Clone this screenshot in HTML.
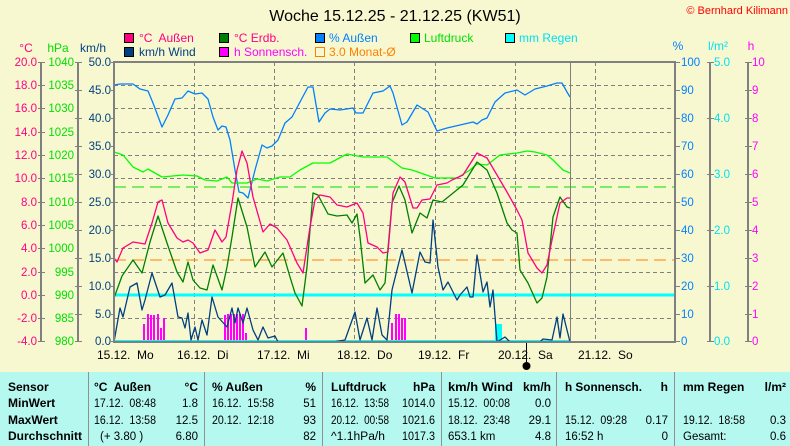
<!DOCTYPE html>
<html><head><meta charset="utf-8"><style>
html,body{margin:0;padding:0;background:#f8f8d0;}
svg{display:block;font-family:"Liberation Sans",sans-serif;}
</style></head><body>
<svg width="790" height="446" viewBox="0 0 790 446" xmlns="http://www.w3.org/2000/svg">
<rect width="790" height="446" fill="#f8f8d0"/>
<text x="395" y="21" font-size="16" text-anchor="middle" fill="#000">Woche 15.12.25 - 21.12.25 (KW51)</text>
<text x="788" y="14" font-size="11" text-anchor="end" fill="#ff0000">© Bernhard Kilimann</text>
<g font-size="12">
<rect x="124.5" y="33.5" width="9" height="9" fill="#ff0080" stroke="#000"/><text x="139" y="42" fill="#ff0080">°C&#160; Außen</text>
<rect x="124.5" y="47.5" width="9" height="9" fill="#004080" stroke="#000"/><text x="139" y="56" fill="#004080">km/h Wind</text>
<rect x="219.5" y="33.5" width="9" height="9" fill="#008000" stroke="#000"/><text x="234" y="42" fill="#ff0080">°C Erdb.</text>
<rect x="219.5" y="47.5" width="9" height="9" fill="#ff00ff" stroke="#000"/><text x="234" y="56" fill="#ff00ff">h Sonnensch.</text>
<rect x="315.5" y="33.5" width="9" height="9" fill="#0080ff" stroke="#000"/><text x="329" y="42" fill="#0080ff">% Außen</text>
<rect x="315.5" y="47.5" width="9" height="9" fill="none" stroke="#ff8000"/><text x="329" y="56" fill="#ff8000">3.0 Monat-Ø</text>
<rect x="410.5" y="33.5" width="9" height="9" fill="#00ff00" stroke="#000"/><text x="424" y="42" fill="#00e000">Luftdruck</text>
<rect x="505.5" y="33.5" width="9" height="9" fill="#00ffff" stroke="#000"/><text x="519" y="42" fill="#00e0f0">mm Regen</text>
</g>
<g font-size="12">
<text x="26" y="52" text-anchor="middle" fill="#ff0080">°C</text>
<text x="58" y="52" text-anchor="middle" fill="#00e000">hPa</text>
<text x="93" y="52" text-anchor="middle" fill="#004080">km/h</text>
<text x="678" y="50" text-anchor="middle" fill="#0080ff">%</text>
<text x="718" y="50" text-anchor="middle" fill="#00e0f0">l/m²</text>
<text x="751" y="50" text-anchor="middle" fill="#ff00ff">h</text>
</g>
<g stroke="#808080" stroke-dasharray="4,3" stroke-width="1">
<line x1="114" y1="85.5" x2="675" y2="85.5"/><line x1="114" y1="108.5" x2="675" y2="108.5"/>
<line x1="114" y1="132.5" x2="675" y2="132.5"/><line x1="114" y1="155.5" x2="675" y2="155.5"/>
<line x1="114" y1="178.5" x2="675" y2="178.5"/><line x1="114" y1="202.5" x2="675" y2="202.5"/>
<line x1="114" y1="225.5" x2="675" y2="225.5"/><line x1="114" y1="248.5" x2="675" y2="248.5"/>
<line x1="114" y1="272.5" x2="675" y2="272.5"/><line x1="114" y1="295.5" x2="675" y2="295.5"/>
<line x1="114" y1="318.5" x2="675" y2="318.5"/>
<line x1="194.5" y1="62" x2="194.5" y2="342"/><line x1="274.5" y1="62" x2="274.5" y2="342"/>
<line x1="354.5" y1="62" x2="354.5" y2="342"/><line x1="435.5" y1="62" x2="435.5" y2="342"/>
<line x1="515.5" y1="62" x2="515.5" y2="342"/><line x1="595.5" y1="62" x2="595.5" y2="342"/>
</g>
<g stroke="#808080" stroke-width="2" fill="none">
<line x1="41" y1="62" x2="41" y2="342"/><line x1="78" y1="62" x2="78" y2="342"/>
<line x1="710" y1="62" x2="710" y2="342"/><line x1="748" y1="62" x2="748" y2="342"/>
</g>
<g stroke="#808080" stroke-width="1">
<path d="M38 62.5h7M38 85.5h7M38 108.5h7M38 132.5h7M38 155.5h7M38 178.5h7M38 202.5h7M38 225.5h7M38 248.5h7M38 272.5h7M38 295.5h7M38 318.5h7M38 341.5h7"/>
<path d="M75 62.5h7M75 90.5h7M75 118.5h7M75 146.5h7M75 174.5h7M75 202.5h7M75 230.5h7M75 258.5h7M75 286.5h7M75 314.5h7M75 341.5h7"/>
<path d="M111 62.5h3M111 90.5h3M111 118.5h3M111 146.5h3M111 174.5h3M111 202.5h3M111 230.5h3M111 258.5h3M111 286.5h3M111 314.5h3M111 341.5h3"/>
<path d="M675 62.5h5M675 90.5h5M675 118.5h5M675 146.5h5M675 174.5h5M675 202.5h5M675 230.5h5M675 258.5h5M675 286.5h5M675 314.5h5M675 341.5h5"/>
<path d="M707 62.5h7M707 118.5h7M707 174.5h7M707 230.5h7M707 286.5h7M707 341.5h7"/>
<path d="M745 62.5h7M745 90.5h7M745 118.5h7M745 146.5h7M745 174.5h7M745 202.5h7M745 230.5h7M745 258.5h7M745 286.5h7M745 314.5h7M745 341.5h7"/>
</g>
<g font-size="11.5" text-anchor="end" fill="#ff0080">
<text x="37" y="66">20.0</text><text x="37" y="89">18.0</text><text x="37" y="112">16.0</text><text x="37" y="136">14.0</text><text x="37" y="159">12.0</text><text x="37" y="182">10.0</text><text x="37" y="206">8.0</text><text x="37" y="229">6.0</text><text x="37" y="252">4.0</text><text x="37" y="276">2.0</text><text x="37" y="299">0.0</text><text x="37" y="322">-2.0</text><text x="37" y="345">-4.0</text>
</g>
<g font-size="11.5" text-anchor="end" fill="#00e000">
<text x="74" y="66">1040</text><text x="74" y="89">1035</text><text x="74" y="112">1030</text><text x="74" y="136">1025</text><text x="74" y="159">1020</text><text x="74" y="182">1015</text><text x="74" y="206">1010</text><text x="74" y="229">1005</text><text x="74" y="252">1000</text><text x="74" y="276">995</text><text x="74" y="299">990</text><text x="74" y="322">985</text><text x="74" y="345">980</text>
</g>
<g font-size="11.5" text-anchor="end" fill="#004080">
<text x="111" y="66">50.0</text><text x="111" y="94">45.0</text><text x="111" y="122">40.0</text><text x="111" y="150">35.0</text><text x="111" y="178">30.0</text><text x="111" y="206">25.0</text><text x="111" y="234">20.0</text><text x="111" y="262">15.0</text><text x="111" y="290">10.0</text><text x="111" y="318">5.0</text><text x="111" y="345">0.0</text>
</g>
<g font-size="11.5" fill="#0080ff">
<text x="681" y="66">100</text><text x="681" y="94">90</text><text x="681" y="122">80</text><text x="681" y="150">70</text><text x="681" y="178">60</text><text x="681" y="206">50</text><text x="681" y="234">40</text><text x="681" y="262">30</text><text x="681" y="290">20</text><text x="681" y="318">10</text><text x="681" y="345">0</text>
</g>
<g font-size="11.5" fill="#00e0f0">
<text x="714" y="66">5.0</text><text x="714" y="122">4.0</text><text x="714" y="178">3.0</text><text x="714" y="234">2.0</text><text x="714" y="290">1.0</text><text x="714" y="345">0.0</text>
</g>
<g font-size="11.5" fill="#ff00ff">
<text x="752" y="66">10</text><text x="752" y="94">9</text><text x="752" y="122">8</text><text x="752" y="150">7</text><text x="752" y="178">6</text><text x="752" y="206">5</text><text x="752" y="234">4</text><text x="752" y="262">3</text><text x="752" y="290">2</text><text x="752" y="318">1</text><text x="752" y="345">0</text>
</g>
<g font-size="12" fill="#000">
<text x="97" y="359">15.12.&#160; Mo</text><text x="177" y="359">16.12.&#160; Di</text><text x="257" y="359">17.12.&#160; Mi</text><text x="337" y="359">18.12.&#160; Do</text><text x="418" y="359">19.12.&#160; Fr</text><text x="498" y="359">20.12.&#160; Sa</text><text x="578" y="359">21.12.&#160; So</text>
</g>
<line x1="526.5" y1="342" x2="526.5" y2="366" stroke="#000"/>
<circle cx="526.5" cy="366" r="4" fill="#000"/>
<line x1="114" y1="187" x2="675" y2="187" stroke="#00e000" stroke-width="1" stroke-dasharray="12,6"/>
<line x1="114" y1="260" x2="675" y2="260" stroke="#ff8000" stroke-width="1" stroke-dasharray="12,6"/>
<line x1="114" y1="295" x2="675" y2="295" stroke="#00ffff" stroke-width="3"/>
<g fill="#ff00ff">
<rect x="143" y="324" width="2" height="18"/><rect x="147" y="314" width="2" height="28"/><rect x="150" y="315" width="2" height="27"/><rect x="153" y="315" width="2" height="27"/><rect x="157" y="314" width="2" height="28"/><rect x="160" y="328" width="2" height="14"/><rect x="163" y="318" width="2" height="24"/>
<rect x="224" y="315" width="2" height="27"/><rect x="227" y="314" width="2" height="28"/><rect x="230" y="314" width="2" height="28"/><rect x="233" y="314" width="2" height="28"/><rect x="236" y="314" width="2" height="28"/><rect x="239" y="314" width="2" height="28"/><rect x="242" y="314" width="2" height="28"/><rect x="245" y="333" width="2" height="9"/>
<rect x="305" y="328" width="2" height="14"/>
<rect x="391" y="323" width="2" height="19"/><rect x="395" y="314" width="2" height="28"/><rect x="398" y="314" width="2" height="28"/><rect x="401" y="318" width="2" height="24"/><rect x="404" y="318" width="2" height="24"/>
</g>
<rect x="495" y="324" width="7" height="18" fill="#00ffff"/>
<line x1="114" y1="341" x2="570" y2="341" stroke="#00ffff" stroke-width="2"/>
<g fill="none" stroke-width="1.3" stroke-linejoin="round">
<polyline stroke="#0080ff" points="114,85 120,84 133,84 140,89 148,91 153,103 162,127 168,115 175,99 182,98 188,91 195,94 202,93 208,99 213,117 218,130 222,126 226,127 230,140 235,170 239,192 243,193 248,198 255,170 262,145 267,148 272,146 278,140 285,123 292,117 300,102 308,87 313,87 319,122 325,113 330,109 340,110 353,108 356,113 363,113 373,93 383,91 390,86 393,93 402,125 407,122 417,105 428,112 437,131 447,128 460,125 473,122 477,124 482,120 487,118 495,102 505,93 517,90 525,95 535,89 547,86 557,83 562,83 567,92 570,97"/>
<polyline stroke="#00ff00" points="114,152 123,155 133,167 143,172 148,169 162,177 183,175 197,176 205,180 217,181 227,177 232,183 247,183 257,179 267,181 280,177 290,177 300,170 313,163 330,163 347,154 363,157 377,157 387,157 402,168 412,170 435,178 457,178 470,170 477,164 487,165 500,155 517,153 527,151 535,152 547,155 553,160 563,170 570,173"/>
<polyline stroke="#008000" points="114,298 122,276 133,260 142,273 150,242 158,216 167,243 177,272 183,282 188,262 193,280 200,288 207,290 213,265 222,290 227,267 232,237 238,198 247,227 255,267 265,252 272,267 283,253 290,277 295,293 302,306 307,267 313,193 318,195 328,214 337,216 347,215 352,223 357,214 360,237 365,283 373,275 380,290 385,283 392,203 399,186 405,200 412,233 420,213 427,218 433,200 442,202 463,185 477,162 487,170 497,193 507,223 512,230 517,233 520,270 528,283 537,303 542,298 547,277 553,217 560,197 567,207 570,208"/>
<polyline stroke="#ff0080" points="114,258 117,262 123,248 133,242 145,244 152,223 158,202 162,200 168,223 177,238 183,242 188,240 193,243 200,253 208,250 215,230 222,242 226,237 232,203 237,170 242,151 247,163 253,197 263,232 270,224 277,228 287,240 297,263 303,273 310,227 315,200 320,195 330,197 337,205 347,207 357,203 363,213 368,243 377,247 383,253 388,252 393,193 400,177 405,182 413,208 417,208 422,200 430,199 437,185 447,183 452,180 463,175 477,153 487,158 497,175 507,192 517,210 522,220 528,253 537,268 542,273 547,265 552,240 560,203 567,198 570,198"/>
<polyline stroke="#004080" points="114,342 120,308 123,317 130,287 137,283 142,310 145,300 152,273 160,297 165,295 172,283 178,317 182,318 185,328 188,313 191,340 195,327 198,340 202,320 207,335 212,297 218,317 227,327 232,308 235,323 238,308 243,323 247,308 253,330 258,340 263,327 268,338 275,336 278,342 333,342 345,340 355,312 360,340 367,318 372,340 377,308 382,335 387,340 392,290 402,250 412,293 420,252 425,262 430,263 433,220 438,267 443,290 448,282 457,300 460,295 467,287 470,297 473,297 477,255 483,292 487,282 490,307 493,290 497,342 505,337 510,342 540,342 543,339 552,340 557,317 560,338 563,314 570,342"/>
</g>
<line x1="570.5" y1="62" x2="570.5" y2="342" stroke="#808080" stroke-width="1"/>
<rect x="114" y="62" width="561" height="280" fill="none" stroke="#808080" stroke-width="2"/>
<rect x="0" y="372" width="790" height="74" fill="#b4f8f0"/>
<g stroke="#909090" stroke-width="1">
<line x1="88.5" y1="372" x2="88.5" y2="446"/><line x1="204.5" y1="372" x2="204.5" y2="446"/><line x1="322.5" y1="372" x2="322.5" y2="446"/><line x1="441.5" y1="372" x2="441.5" y2="446"/><line x1="556.5" y1="372" x2="556.5" y2="446"/><line x1="674.5" y1="372" x2="674.5" y2="446"/>
</g>
<g font-size="12" fill="#000">
<g font-weight="bold">
<text x="8" y="391">Sensor</text><text x="8" y="407">MinWert</text><text x="8" y="424">MaxWert</text><text x="8" y="440" textLength="74" lengthAdjust="spacingAndGlyphs">Durchschnitt</text>
<text x="94" y="391">°C&#160; Außen</text><text x="198" y="391" text-anchor="end">°C</text>
<text x="212" y="391">% Außen</text><text x="316" y="391" text-anchor="end">%</text>
<text x="331" y="391">Luftdruck</text><text x="435" y="391" text-anchor="end">hPa</text>
<text x="448" y="391" textLength="65" lengthAdjust="spacingAndGlyphs">km/h Wind</text><text x="551" y="391" text-anchor="end">km/h</text>
<text x="565" y="391" textLength="77" lengthAdjust="spacingAndGlyphs">h Sonnensch.</text><text x="668" y="391" text-anchor="end">h</text>
<text x="683" y="391">mm Regen</text><text x="786" y="391" text-anchor="end">l/m²</text>
</g>
<g font-size="11.5">
<text x="94" y="407" textLength="62" lengthAdjust="spacingAndGlyphs">17.12.&#160; 08:48</text><text x="198" y="407" text-anchor="end">1.8</text>
<text x="94" y="424" textLength="62" lengthAdjust="spacingAndGlyphs">16.12.&#160; 13:58</text><text x="198" y="424" text-anchor="end">12.5</text>
<text x="100" y="440">(+ 3.80 )</text><text x="198" y="440" text-anchor="end">6.80</text>
<text x="212" y="407" textLength="62" lengthAdjust="spacingAndGlyphs">16.12.&#160; 15:58</text><text x="316" y="407" text-anchor="end">51</text>
<text x="212" y="424" textLength="62" lengthAdjust="spacingAndGlyphs">20.12.&#160; 12:18</text><text x="316" y="424" text-anchor="end">93</text>
<text x="316" y="440" text-anchor="end">82</text>
<text x="331" y="407" textLength="58" lengthAdjust="spacingAndGlyphs">16.12.&#160; 13:58</text><text x="435" y="407" text-anchor="end" textLength="33" lengthAdjust="spacingAndGlyphs">1014.0</text>
<text x="331" y="424" textLength="58" lengthAdjust="spacingAndGlyphs">20.12.&#160; 00:58</text><text x="435" y="424" text-anchor="end" textLength="33" lengthAdjust="spacingAndGlyphs">1021.6</text>
<text x="331" y="440" textLength="54" lengthAdjust="spacingAndGlyphs">^1.1hPa/h</text><text x="435" y="440" text-anchor="end" textLength="33" lengthAdjust="spacingAndGlyphs">1017.3</text>
<text x="448" y="407" textLength="62" lengthAdjust="spacingAndGlyphs">15.12.&#160; 00:08</text><text x="551" y="407" text-anchor="end">0.0</text>
<text x="448" y="424" textLength="62" lengthAdjust="spacingAndGlyphs">18.12.&#160; 23:48</text><text x="551" y="424" text-anchor="end">29.1</text>
<text x="448" y="440">653.1 km</text><text x="551" y="440" text-anchor="end">4.8</text>
<text x="565" y="424" textLength="62" lengthAdjust="spacingAndGlyphs">15.12.&#160; 09:28</text><text x="668" y="424" text-anchor="end">0.17</text>
<text x="565" y="440">16:52 h</text><text x="668" y="440" text-anchor="end">0</text>
<text x="683" y="424" textLength="62" lengthAdjust="spacingAndGlyphs">19.12.&#160; 18:58</text><text x="786" y="424" text-anchor="end">0.3</text>
<text x="683" y="440">Gesamt:</text><text x="786" y="440" text-anchor="end">0.6</text>
</g>
</g>
</svg>
</body></html>
